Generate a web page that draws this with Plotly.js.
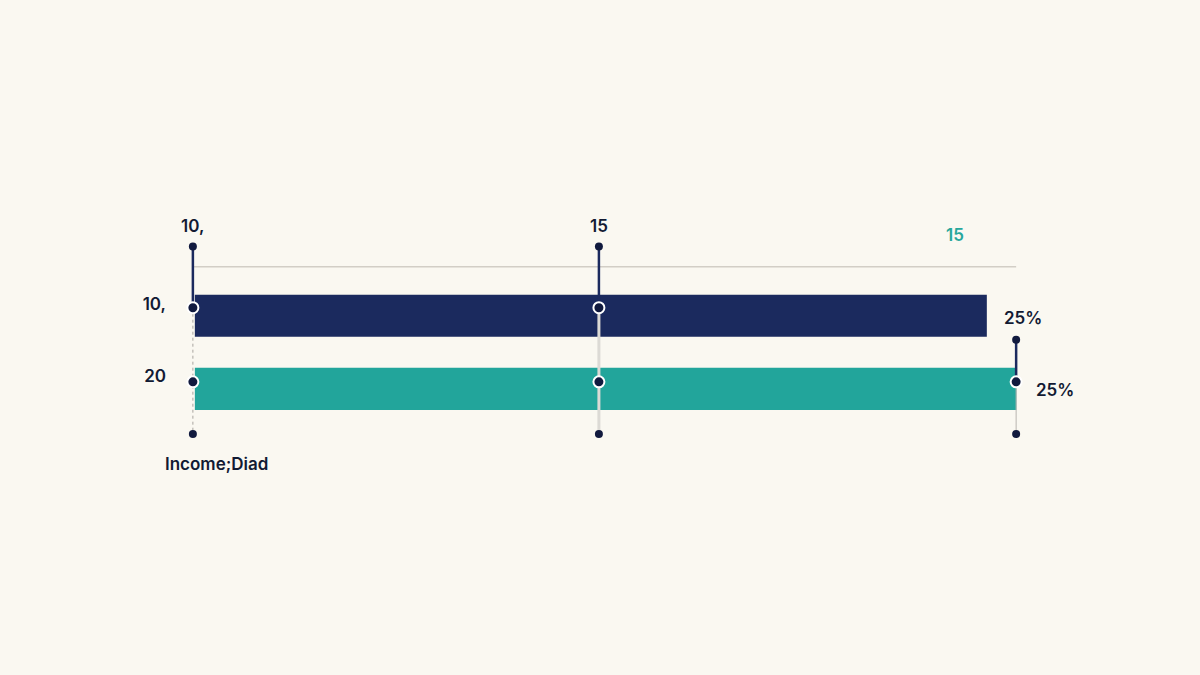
<!DOCTYPE html>
<html>
<head>
<meta charset="utf-8">
<script src="https://cdn.plot.ly/plotly-3.0.1.min.js"></script>
<style>
  html, body { margin: 0; padding: 0; background: #FAF8F1; }
  #plotly__graph { width: 1200px; height: 675px; }
</style>
</head>
<body>
<div id="plotly__graph"></div>
<script>
// **********************************************************************************************
// DATA

const rowLabels = ['10,', '20'];
const rowTickPos = [1.16, 0.18];
const barRows = [1, 0];
const barValues = [24.05, 24.95];
const barBase = 0.06;
const barColors = ['#1B2A5E', '#22A59B'];

const markerX = [0, 12.33, 25];
const markerTop = [1.945, 1.945, 0.671];
const markerMid = [1.11, 1.11, 0.096];
const markerLow = [0.096, 0.096, 0.096];
const markerBottom = [-0.616, -0.616, -0.616];

const gridY = 1.671;

const topLabels = ['10,', '15'];
const accentLabel = '15';
const sideLabels = ['25%', '25%'];
const noteLabel = 'Income;Diad';

const NAVY = '#1B2A5E';
const INK = '#121A33';

const plotly_graph = () => {
    const div = document.getElementById('plotly__graph');

    // **********************************************************************************************
    // TRACES

    let data = [];

    // horizontal guide line
    data.push({
        type: 'scatter', mode: 'lines',
        x: [markerX[0], markerX[2]], y: [gridY, gridY],
        line: { color: '#D2CEC6', width: 1.5 },
        hoverinfo: 'skip', cliponaxis: false
    });

    // bars
    data.push({
        type: 'bar', orientation: 'h',
        x: barValues, y: barRows, base: barBase,
        width: 0.575,
        marker: { color: barColors, line: { width: 0 } },
        hoverinfo: 'skip'
    });

    // lower guides (below the navy stems)
    const lowerStyles = [
        { color: '#A9A6A0', width: 1, dash: 'dot' },
        { color: '#DCDAD5', width: 3, dash: 'solid' },
        { color: '#B8B5AF', width: 1, dash: 'solid' }
    ];
    markerX.forEach((x, i) => {
        data.push({
            type: 'scatter', mode: 'lines',
            x: [x, x], y: [markerMid[i], markerBottom[i]],
            line: lowerStyles[i],
            hoverinfo: 'skip', cliponaxis: false
        });
    });

    // navy stems
    markerX.forEach((x, i) => {
        data.push({
            type: 'scatter', mode: 'lines',
            x: [x, x], y: [markerTop[i], markerMid[i]],
            line: { color: NAVY, width: 2.5 },
            hoverinfo: 'skip', cliponaxis: false
        });
    });

    // plain dots
    data.push({
        type: 'scatter', mode: 'markers',
        x: markerX.concat(markerX),
        y: markerTop.concat(markerBottom),
        marker: { color: '#111A3E', size: 8 },
        hoverinfo: 'skip', cliponaxis: false
    });

    // ringed dots on the bars
    data.push({
        type: 'scatter', mode: 'markers',
        x: markerX.slice(0, 2).concat(markerX),
        y: markerMid.slice(0, 2).concat(markerLow),
        marker: { color: '#111A3E', size: 11, line: { color: '#FFFFFF', width: 2 } },
        hoverinfo: 'skip', cliponaxis: false
    });

    // **********************************************************************************************
    // ANNOTATIONS

    const font = { family: 'Inter, Roboto, sans-serif', size: 17, color: INK, weight: 600 };
    let annotations = [
        { x: markerX[0], y: 2.23, text: topLabels[0] },
        { x: markerX[1], y: 2.23, text: topLabels[1] },
        { x: 23.15, y: 2.11, text: accentLabel, font: Object.assign({}, font, { color: '#27A79C' }) },
        { x: 25.21, y: 0.97, text: sideLabels[0] },
        { x: 26.18, y: -0.01, text: sideLabels[1] },
        { x: 0.73, y: -1.03, text: noteLabel }
    ].map(a => Object.assign({
        xref: 'x', yref: 'y', showarrow: false,
        xanchor: 'center', yanchor: 'middle', font: font
    }, a));

    // **********************************************************************************************
    // LAYOUT

    // 32.92 px per x unit, 73 px per y unit
    let layout = {
        width: 1200, height: 675,
        paper_bgcolor: '#FAF8F1',
        plot_bgcolor: 'rgba(0,0,0,0)',
        margin: { t: 217.45, r: 118.16, b: 202.05, l: 183.12, pad: 0 },
        showlegend: false,
        dragmode: false,
        xaxis: {
            range: [-0.3, 27], showgrid: false, zeroline: false,
            showticklabels: false, showline: false, fixedrange: true
        },
        yaxis: {
            range: [-1.15, 2.35], showgrid: false, zeroline: false, showline: false,
            tickmode: 'array', tickvals: rowTickPos, ticktext: rowLabels,
            ticks: '', ticklabelstandoff: 16,
            tickfont: font, fixedrange: true
        },
        annotations: annotations
    };

    const config = { displayModeBar: false, staticPlot: true };

    Plotly.newPlot(div, data, layout, config);
};

plotly_graph();
</script>
</body>
</html>
